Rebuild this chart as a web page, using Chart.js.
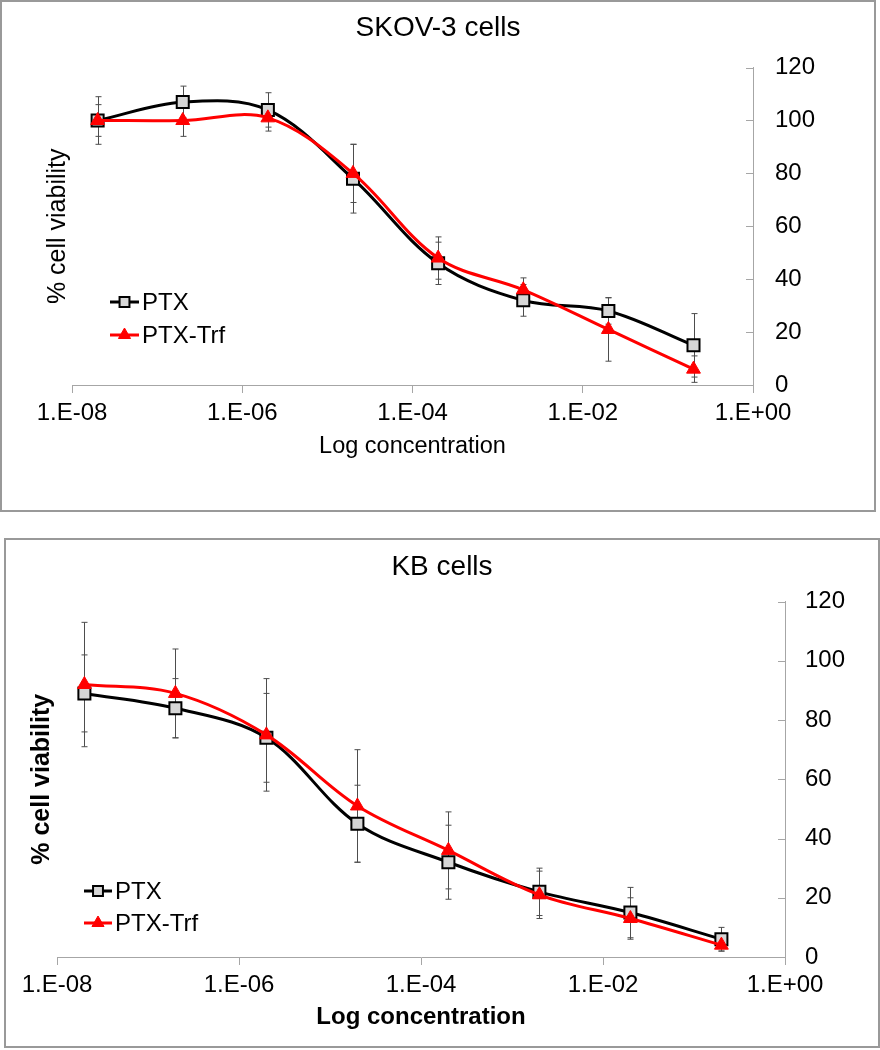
<!DOCTYPE html>
<html>
<head>
<meta charset="utf-8">
<script src="https://cdn.jsdelivr.net/npm/chart.js@4.4.0/dist/chart.umd.min.js"></script>
<style>
  body { margin: 0; background: #fff; }
  .box { position: absolute; border: 2px solid #999; background: #fff; }
  #box1 { left: 0px; top: 0px; width: 872px; height: 508px; }
  #box2 { left: 4px; top: 538px; width: 872px; height: 506px; }
  canvas { display: block; }
</style>
</head>
<body>
<div class="box" id="box1"><canvas id="skovChart" width="872" height="508"></canvas></div>
<div class="box" id="box2"><canvas id="kbChart" width="872" height="506"></canvas></div>

<script>
// concentrations (M) of the tested points
var concentrations = [2e-8, 2e-7, 2e-6, 2e-5, 2e-4, 2e-3, 2e-2, 2e-1];

// SKOV-3 cells
var skovPtx = [100, 107, 104, 78, 46, 32, 28, 15];
var skovPtxErr = [9, 6, 6.5, 13, 8, 6, 5, 12];
var skovTrf = [100, 100, 101, 80, 48, 36, 21, 6];
var skovTrfErr = [6, 6, 5, 11, 8, 4.5, 12, 5];

// KB cells
var kbPtx = [89, 84, 74, 45, 32, 22, 15, 6];
var kbPtxErr = [13, 10, 15, 13, 12.5, 8, 8.5, 4];
var kbTrf = [92, 89, 75, 51, 36, 21, 13, 4];
var kbTrfErr = [21, 15, 19, 19, 13, 8, 7, 2];

// x axis ticks
var xTickValues = [1e-8, 1e-6, 1e-4, 1e-2, 1];
var xTickLabels = ['1.E-08', '1.E-06', '1.E-04', '1.E-02', '1.E+00'];

var FONT = '"Liberation Sans", Arial, sans-serif';
var AXIS_GREY = '#a6a6a6';

function toPoints(values) {
    return values.map(function(v, i) {
        return { x: concentrations[i], y: v };
    });
}

// error bars drawn behind the lines
var errorBars = {
    id: 'errorBars',
    beforeDatasetsDraw: function(chart) {
        var ctx = chart.ctx;
        var xs = chart.scales.x, ys = chart.scales.y;
        ctx.save();
        ctx.strokeStyle = '#4d4d4d';
        ctx.lineWidth = 1;
        chart.data.datasets.forEach(function(ds) {
            ds.data.forEach(function(p, i) {
                var e = ds.errors[i];
                var px = Math.round(xs.getPixelForValue(p.x)) + 0.5;
                var yTop = ys.getPixelForValue(p.y + e);
                var yBot = ys.getPixelForValue(p.y - e);
                ctx.beginPath();
                ctx.moveTo(px, yTop); ctx.lineTo(px, yBot);
                ctx.moveTo(px - 3, yTop); ctx.lineTo(px + 3, yTop);
                ctx.moveTo(px - 3, yBot); ctx.lineTo(px + 3, yBot);
                ctx.stroke();
            });
        });
        ctx.restore();
    }
};

// short tick marks on the inner side of the right axis
var innerTicks = {
    id: 'innerTicks',
    afterDraw: function(chart) {
        var ys = chart.scales.y;
        var ctx = chart.ctx;
        ctx.save();
        ctx.strokeStyle = AXIS_GREY;
        ctx.lineWidth = 1;
        ys.ticks.forEach(function(t) {
            var py = Math.round(ys.getPixelForValue(t.value)) + 0.5;
            ctx.beginPath();
            ctx.moveTo(ys.left - 7, py);
            ctx.lineTo(ys.left, py);
            ctx.stroke();
        });
        ctx.restore();
    }
};

// legend drawn inside the plot, lower left
var insideLegend = {
    id: 'insideLegend',
    afterDraw: function(chart, args, opts) {
        var ctx = chart.ctx;
        var area = chart.chartArea;
        ctx.save();
        chart.data.datasets.forEach(function(ds, i) {
            var x0 = area.left + opts.dx;
            var y = area.bottom - opts.rows[i];
            ctx.strokeStyle = ds.borderColor;
            ctx.lineWidth = 3;
            ctx.beginPath();
            ctx.moveTo(x0, y); ctx.lineTo(x0 + opts.lineLen, y);
            ctx.stroke();
            ctx.fillStyle = ds.pointBackgroundColor;
            ctx.strokeStyle = ds.pointBorderColor;
            ctx.lineWidth = ds.pointBorderWidth;
            Chart.helpers.drawPoint(ctx, {
                pointStyle: ds.pointStyle,
                radius: opts.markerRadius,
                borderWidth: ds.pointBorderWidth,
                rotation: 0
            }, x0 + opts.lineLen / 2, y);
            ctx.fillStyle = '#000';
            ctx.font = opts.fontSize + 'px ' + FONT;
            ctx.textBaseline = 'middle';
            ctx.textAlign = 'left';
            ctx.fillText(ds.label, x0 + opts.lineLen + 3, y + 1);
        });
        ctx.restore();
    }
};

function makeChart(id, cfg) {
    var bold = cfg.bold ? 'bold' : 'normal';
    return new Chart(document.getElementById(id), {
        type: 'line',
        data: {
            datasets: [
                {
                    label: 'PTX',
                    data: toPoints(cfg.ptx),
                    errors: cfg.ptxErr,
                    borderColor: '#000000',
                    borderWidth: 3,
                    pointStyle: 'rect',
                    pointRadius: 8.5,
                    pointBackgroundColor: '#d6d6d6',
                    pointBorderColor: '#000000',
                    pointBorderWidth: 2,
                    tension: 0.35,
                    order: 2
                },
                {
                    label: 'PTX-Trf',
                    data: toPoints(cfg.trf),
                    errors: cfg.trfErr,
                    borderColor: '#ff0000',
                    borderWidth: 3,
                    pointStyle: 'triangle',
                    pointRadius: 8,
                    pointBackgroundColor: '#ff0000',
                    pointBorderColor: '#ff0000',
                    pointBorderWidth: 1,
                    tension: 0.35,
                    order: 1
                }
            ]
        },
        options: {
            responsive: false,
            animation: false,
            layout: { padding: 0 },
            plugins: {
                legend: { display: false },
                tooltip: { enabled: false },
                title: {
                    display: true,
                    text: cfg.title,
                    color: '#000',
                    font: { family: FONT, size: 28, weight: 'normal' },
                    padding: { top: cfg.titleTop, bottom: cfg.titleBottom }
                },
                insideLegend: cfg.legend
            },
            scales: {
                x: {
                    type: 'logarithmic',
                    min: 1e-8,
                    max: 1,
                    afterBuildTicks: function(scale) {
                        scale.ticks = xTickValues.map(function(v) { return { value: v }; });
                    },
                    afterFit: function(scale) { scale.height = cfg.xHeight; },
                    ticks: {
                        color: '#000',
                        font: { family: FONT, size: 24 },
                        padding: 6,
                        maxRotation: 0,
                        autoSkip: false,
                        callback: function(value, index) { return xTickLabels[index]; }
                    },
                    grid: { drawOnChartArea: false, drawTicks: true, tickLength: 8, color: AXIS_GREY },
                    border: { display: true, color: AXIS_GREY, width: 1 },
                    title: {
                        display: true,
                        text: 'Log concentration',
                        color: '#000',
                        font: { family: FONT, size: cfg.xTitleSize, weight: bold },
                        padding: { top: 0, bottom: cfg.xTitleBottom }
                    }
                },
                y: {
                    position: 'right',
                    min: 0,
                    max: 120,
                    afterFit: function(scale) { scale.width = cfg.yWidth; },
                    ticks: {
                        stepSize: 20,
                        color: '#000',
                        font: { family: FONT, size: 24 },
                        padding: cfg.yTickPad
                    },
                    grid: { drawOnChartArea: false, drawTicks: false },
                    border: { display: true, color: AXIS_GREY, width: 1 }
                },
                yL: {
                    position: 'left',
                    min: 0,
                    max: 120,
                    afterFit: function(scale) { scale.width = cfg.leftWidth; },
                    ticks: { display: false },
                    grid: { display: false },
                    border: { display: false },
                    title: {
                        display: true,
                        text: '% cell viability',
                        color: '#000',
                        font: { family: FONT, size: 25, weight: bold },
                        padding: { top: cfg.yTitleTop, bottom: 0 }
                    }
                }
            }
        },
        plugins: [errorBars, innerTicks, insideLegend]
    });
}

makeChart('skovChart', {
    title: 'SKOV-3 cells',
    ptx: skovPtx, ptxErr: skovPtxErr,
    trf: skovTrf, trfErr: skovTrfErr,
    bold: false,
    titleTop: 9, titleBottom: 23,
    xHeight: 125, xTitleSize: 23.5, xTitleBottom: 49,
    yWidth: 121, yTickPad: 22,
    leftWidth: 70, yTitleTop: 41,
    legend: { dx: 38, rows: [83, 50], lineLen: 29, markerRadius: 7, fontSize: 24 }
});

makeChart('kbChart', {
    title: 'KB cells',
    ptx: kbPtx, ptxErr: kbPtxErr,
    trf: kbTrf, trfErr: kbTrfErr,
    bold: true,
    titleTop: 10, titleBottom: 18,
    xHeight: 89, xTitleSize: 24, xTitleBottom: 14,
    yWidth: 93, yTickPad: 20,
    leftWidth: 51, yTitleTop: 21,
    legend: { dx: 27, rows: [66, 34], lineLen: 28, markerRadius: 7, fontSize: 24 }
});
</script>
</body>
</html>
